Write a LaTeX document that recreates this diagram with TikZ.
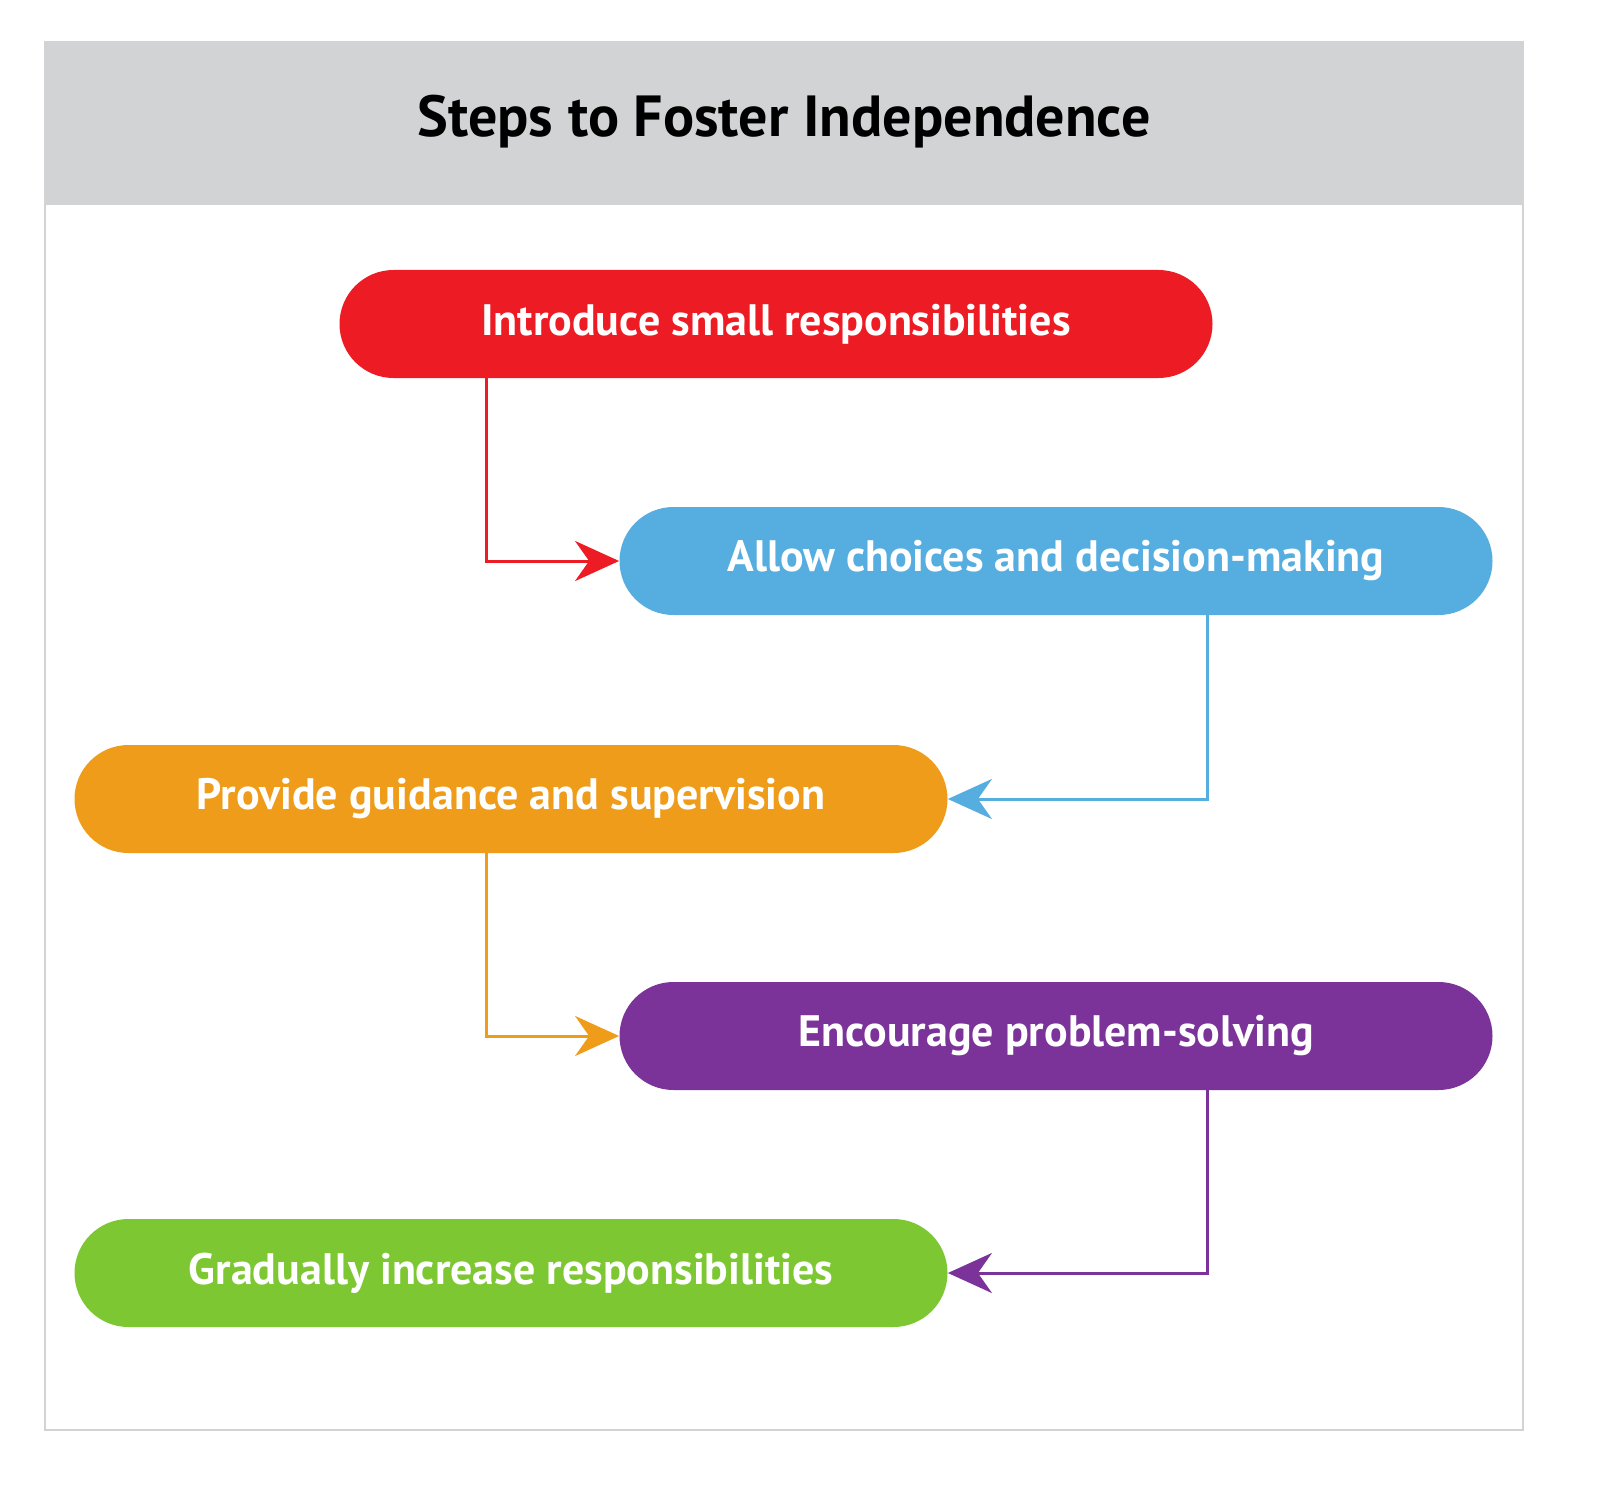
\documentclass[tikz,border=0pt]{standalone}
\usepackage{fontspec}
\setmainfont{PT Sans}
\usetikzlibrary{arrows.meta,calc}
\definecolor{cred}{HTML}{ED1C24}
\definecolor{cblue}{HTML}{56ADE0}
\definecolor{corange}{HTML}{EE9C1A}
\definecolor{cpurple}{HTML}{7B3399}
\definecolor{cgreen}{HTML}{7DC832}
\definecolor{cgray}{HTML}{D1D3D4}
\begin{document}
\begin{tikzpicture}[x=0.5pt,y=-0.5pt,
  step/.style={fill=#1,text=white,rounded corners=27pt,minimum width=436.5pt,minimum height=54pt,inner sep=0pt,font=\bfseries\fontsize{22}{26}\selectfont},
  conn/.style={draw=#1,line width=1.5pt,-{Stealth[length=22pt,width=20pt,inset=7pt]}}]
\useasboundingbox (0,0) rectangle (1600,1503);
\fill[white] (0,0) rectangle (1600,1503);
\fill[cgray] (45,42) rectangle (1523,205);
\draw[cgray,line width=1pt] (45,42) rectangle (1523,1430);
\node (title) at (784,122) {\bfseries\fontsize{29}{34}\selectfont Steps to Foster Independence};
\node[step=cred] (n1) at (776,324) {Introduce small responsibilities};
\node[step=cblue] (n2) at (1056,561) {Allow choices and decision-making};
\node[step=corange] (n3) at (511,799) {Provide guidance and supervision};
\node[step=cpurple] (n4) at (1056,1036) {Encourage problem-solving};
\node[step=cgreen] (n5) at (511,1273) {Gradually increase responsibilities};
\draw[conn=cred] ($(n1.south west)+(147,0)$) |- (n2.west);
\draw[conn=cblue] ($(n2.south east)+(-285,0)$) |- (n3.east);
\draw[conn=corange] ($(n3.south west)+(412,0)$) |- (n4.west);
\draw[conn=cpurple] ($(n4.south east)+(-285,0)$) |- (n5.east);
\end{tikzpicture}
\end{document}
